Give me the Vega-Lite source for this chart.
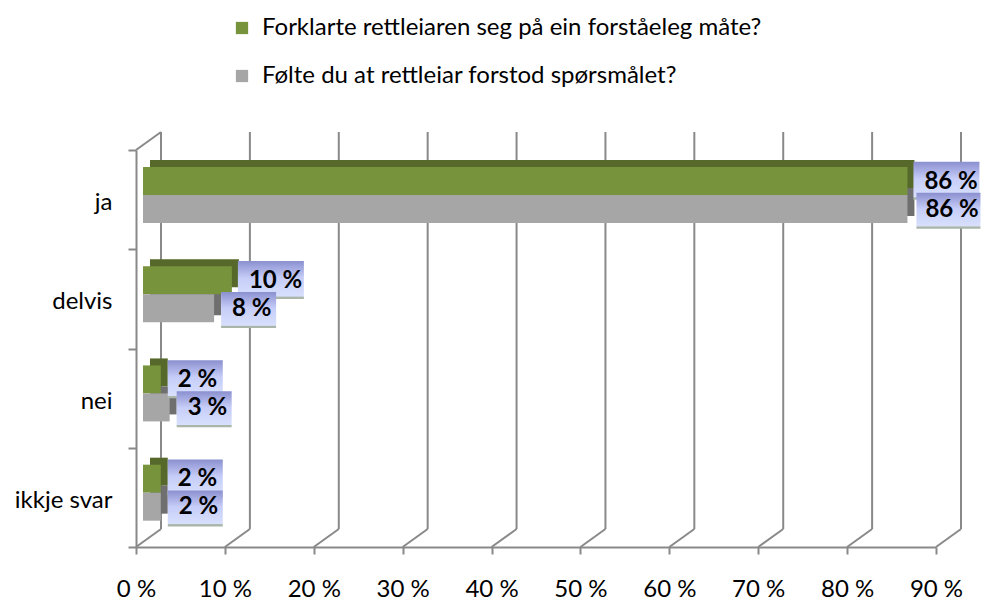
{
  "$schema": "https://vega.github.io/schema/vega-lite/v6.json",
  "width": 800,
  "height": 397,
  "autosize": {"type": "none"},
  "padding": {"left": 136, "top": 150, "right": 45, "bottom": 53},
  "background": "white",
  "config": {
    "view": {"stroke": null},
    "font": "Lato",
    "axisY": {"domainColor": "#898989", "domainWidth": 2, "tickColor": "#898989", "tickWidth": 2, "tickSize": 8, "tickBand": "extent", "labelFontSize": 24, "labelColor": "#000000", "labelPadding": 16, "labelOffset": 3, "grid": false, "labelFont": "Lato"},
    "axisX": {"domainColor": "#898989", "domainWidth": 2, "tickColor": "#898989", "tickWidth": 2, "tickSize": 7, "labelFontSize": 24, "labelColor": "#000000", "labelPadding": 23, "labelFlush": false, "grid": false, "labelFont": "Lato"},
    "legend": {"orient": "none", "legendX": 94, "legendY": -134, "direction": "vertical", "symbolType": "square", "symbolSize": 150, "symbolStrokeWidth": 0, "labelFontSize": 24, "labelFont": "Lato", "labelColor": "#000000", "rowPadding": 24, "labelOffset": 8, "labelLimit": 0}
  },
  "datasets": {
    "svar": [
      {"kategori": "ja", "sporsmal": "Forklarte rettleiaren seg på ein forståeleg måte?", "prosent": 86},
      {"kategori": "ja", "sporsmal": "Følte du at rettleiar forstod spørsmålet?", "prosent": 86},
      {"kategori": "delvis", "sporsmal": "Forklarte rettleiaren seg på ein forståeleg måte?", "prosent": 10},
      {"kategori": "delvis", "sporsmal": "Følte du at rettleiar forstod spørsmålet?", "prosent": 8},
      {"kategori": "nei", "sporsmal": "Forklarte rettleiaren seg på ein forståeleg måte?", "prosent": 2},
      {"kategori": "nei", "sporsmal": "Følte du at rettleiar forstod spørsmålet?", "prosent": 3},
      {"kategori": "ikkje svar", "sporsmal": "Forklarte rettleiaren seg på ein forståeleg måte?", "prosent": 2},
      {"kategori": "ikkje svar", "sporsmal": "Følte du at rettleiar forstod spørsmålet?", "prosent": 2}
    ],
    "ticks": [{"t": 0}, {"t": 10}, {"t": 20}, {"t": 30}, {"t": 40}, {"t": 50}, {"t": 60}, {"t": 70}, {"t": 80}, {"t": 90}]
  },
  "layer": [
    {
      "data": {"name": "ticks"},
      "mark": {"type": "rule", "color": "#898989", "strokeWidth": 2, "xOffset": 25, "yOffset": -18, "y2Offset": -18},
      "encoding": {
        "x": {"field": "t", "type": "quantitative", "scale": {"domain": [0, 90]}, "title": null, "axis": {"values": [0, 10, 20, 30, 40, 50, 60, 70, 80, 90], "labelExpr": "datum.value + ' %'"}},
        "y": {"datum": "ja", "type": "nominal", "bandPosition": 0, "title": null, "scale": {"domain": ["ja", "delvis", "nei", "ikkje svar"], "paddingInner": 0, "paddingOuter": 0}},
        "y2": {"datum": "ikkje svar", "bandPosition": 1}
      }
    },
    {
      "data": {"name": "ticks"},
      "mark": {"type": "rule", "color": "#898989", "strokeWidth": 2, "x2Offset": 25, "y2Offset": -18},
      "encoding": {
        "x": {"field": "t", "type": "quantitative", "title": null},
        "x2": {"field": "t"},
        "y": {"datum": "ikkje svar", "type": "nominal", "bandPosition": 1, "title": null},
        "y2": {"datum": "ikkje svar", "bandPosition": 1}
      }
    },
    {
      "data": {"values": [{"t": 0}]},
      "mark": {"type": "rule", "color": "#898989", "strokeWidth": 2, "x2Offset": 25, "y2Offset": -18},
      "encoding": {
        "x": {"field": "t", "type": "quantitative", "title": null},
        "x2": {"field": "t"},
        "y": {"datum": "ja", "type": "nominal", "bandPosition": 0, "title": null},
        "y2": {"datum": "ja", "bandPosition": 0}
      }
    },
    {
      "data": {"name": "svar"},
      "transform": [{"filter": {"field": "sporsmal", "equal": "Forklarte rettleiaren seg på ein forståeleg måte?"}}],
      "mark": {"type": "bar", "color": "#56692b", "height": 28, "yOffset": -25.7, "xOffset": 14, "x2Offset": 14},
      "encoding": {
        "x": {"field": "prosent", "type": "quantitative", "title": null},
        "y": {"field": "kategori", "type": "nominal", "title": null}
      }
    },
    {
      "data": {"name": "svar"},
      "transform": [{"filter": {"field": "sporsmal", "equal": "Følte du at rettleiar forstod spørsmålet?"}}],
      "mark": {"type": "bar", "color": "#6f6f6f", "height": 28, "yOffset": 2.3, "xOffset": 14, "x2Offset": 14},
      "encoding": {
        "x": {"field": "prosent", "type": "quantitative", "title": null},
        "y": {"field": "kategori", "type": "nominal", "title": null}
      }
    },
    {
      "data": {"name": "svar"},
      "transform": [{"filter": {"field": "sporsmal", "equal": "Forklarte rettleiaren seg på ein forståeleg måte?"}}],
      "mark": {"type": "bar", "height": 28, "yOffset": -18.7, "xOffset": 7, "x2Offset": 7},
      "encoding": {
        "x": {"field": "prosent", "type": "quantitative", "title": null},
        "y": {"field": "kategori", "type": "nominal", "title": null},
        "color": {"field": "sporsmal", "type": "nominal", "scale": {"domain": ["Forklarte rettleiaren seg på ein forståeleg måte?", "Følte du at rettleiar forstod spørsmålet?"], "range": ["#77933c", "#a6a6a6"]}, "legend": {"title": null}}
      }
    },
    {
      "data": {"name": "svar"},
      "transform": [{"filter": {"field": "sporsmal", "equal": "Følte du at rettleiar forstod spørsmålet?"}}],
      "mark": {"type": "bar", "height": 28, "yOffset": 9.3, "xOffset": 7, "x2Offset": 7},
      "encoding": {
        "x": {"field": "prosent", "type": "quantitative", "title": null},
        "y": {"field": "kategori", "type": "nominal", "title": null},
        "color": {"field": "sporsmal", "type": "nominal", "legend": {"title": null}}
      }
    },
    {
      "data": {"name": "svar"},
      "transform": [{"filter": {"field": "sporsmal", "equal": "Forklarte rettleiaren seg på ein forståeleg måte?"}}, {"filter": "datum.prosent < 10"}],
      "mark": {"type": "bar", "height": 38, "yOffset": -19, "xOffset": 14, "x2Offset": 69, "fill": {"gradient": "linear", "x1": 0, "y1": 0, "x2": 0, "y2": 1, "stops": [{"offset": 0, "color": "#8a8fcf"}, {"offset": 0.45, "color": "#c6cdf8"}, {"offset": 0.93, "color": "#d8e0fd"}, {"offset": 0.95, "color": "#a9b6a9"}, {"offset": 1, "color": "#a9b6a9"}]}},
      "encoding": {
        "x": {"field": "prosent", "type": "quantitative", "title": null},
        "x2": {"field": "prosent"},
        "y": {"field": "kategori", "type": "nominal", "title": null}
      }
    },
    {
      "data": {"name": "svar"},
      "transform": [{"filter": {"field": "sporsmal", "equal": "Forklarte rettleiaren seg på ein forståeleg måte?"}}, {"filter": "datum.prosent >= 10"}],
      "mark": {"type": "bar", "height": 38, "yOffset": -19, "xOffset": 13, "x2Offset": 79, "fill": {"gradient": "linear", "x1": 0, "y1": 0, "x2": 0, "y2": 1, "stops": [{"offset": 0, "color": "#8a8fcf"}, {"offset": 0.45, "color": "#c6cdf8"}, {"offset": 0.93, "color": "#d8e0fd"}, {"offset": 0.95, "color": "#a9b6a9"}, {"offset": 1, "color": "#a9b6a9"}]}},
      "encoding": {
        "x": {"field": "prosent", "type": "quantitative", "title": null},
        "x2": {"field": "prosent"},
        "y": {"field": "kategori", "type": "nominal", "title": null}
      }
    },
    {
      "data": {"name": "svar"},
      "transform": [{"filter": {"field": "sporsmal", "equal": "Forklarte rettleiaren seg på ein forståeleg måte?"}}],
      "mark": {"type": "text", "align": "left", "baseline": "middle", "fontSize": 24, "fontWeight": "bold", "font": "Lato", "color": "#000000", "xOffset": 24, "yOffset": -18, "text": {"expr": "datum.prosent + ' %'"}},
      "encoding": {
        "x": {"field": "prosent", "type": "quantitative", "title": null},
        "y": {"field": "kategori", "type": "nominal", "title": null}
      }
    },
    {
      "data": {"name": "svar"},
      "transform": [{"filter": {"field": "sporsmal", "equal": "Følte du at rettleiar forstod spørsmålet?"}}, {"filter": "datum.prosent < 10"}],
      "mark": {"type": "bar", "height": 36, "yOffset": 11, "xOffset": 14, "x2Offset": 69, "fill": {"gradient": "linear", "x1": 0, "y1": 0, "x2": 0, "y2": 1, "stops": [{"offset": 0, "color": "#8a8fcf"}, {"offset": 0.45, "color": "#c6cdf8"}, {"offset": 0.93, "color": "#d8e0fd"}, {"offset": 0.95, "color": "#a9b6a9"}, {"offset": 1, "color": "#a9b6a9"}]}},
      "encoding": {
        "x": {"field": "prosent", "type": "quantitative", "title": null},
        "x2": {"field": "prosent"},
        "y": {"field": "kategori", "type": "nominal", "title": null}
      }
    },
    {
      "data": {"name": "svar"},
      "transform": [{"filter": {"field": "sporsmal", "equal": "Følte du at rettleiar forstod spørsmålet?"}}, {"filter": "datum.prosent >= 10"}],
      "mark": {"type": "bar", "height": 36, "yOffset": 11, "xOffset": 16, "x2Offset": 80, "fill": {"gradient": "linear", "x1": 0, "y1": 0, "x2": 0, "y2": 1, "stops": [{"offset": 0, "color": "#8a8fcf"}, {"offset": 0.45, "color": "#c6cdf8"}, {"offset": 0.93, "color": "#d8e0fd"}, {"offset": 0.95, "color": "#a9b6a9"}, {"offset": 1, "color": "#a9b6a9"}]}},
      "encoding": {
        "x": {"field": "prosent", "type": "quantitative", "title": null},
        "x2": {"field": "prosent"},
        "y": {"field": "kategori", "type": "nominal", "title": null}
      }
    },
    {
      "data": {"name": "svar"},
      "transform": [{"filter": {"field": "sporsmal", "equal": "Følte du at rettleiar forstod spørsmålet?"}}],
      "mark": {"type": "text", "align": "left", "baseline": "middle", "fontSize": 24, "fontWeight": "bold", "font": "Lato", "color": "#000000", "xOffset": 25, "yOffset": 10, "text": {"expr": "datum.prosent + ' %'"}},
      "encoding": {
        "x": {"field": "prosent", "type": "quantitative", "title": null},
        "y": {"field": "kategori", "type": "nominal", "title": null}
      }
    }
  ]
}
